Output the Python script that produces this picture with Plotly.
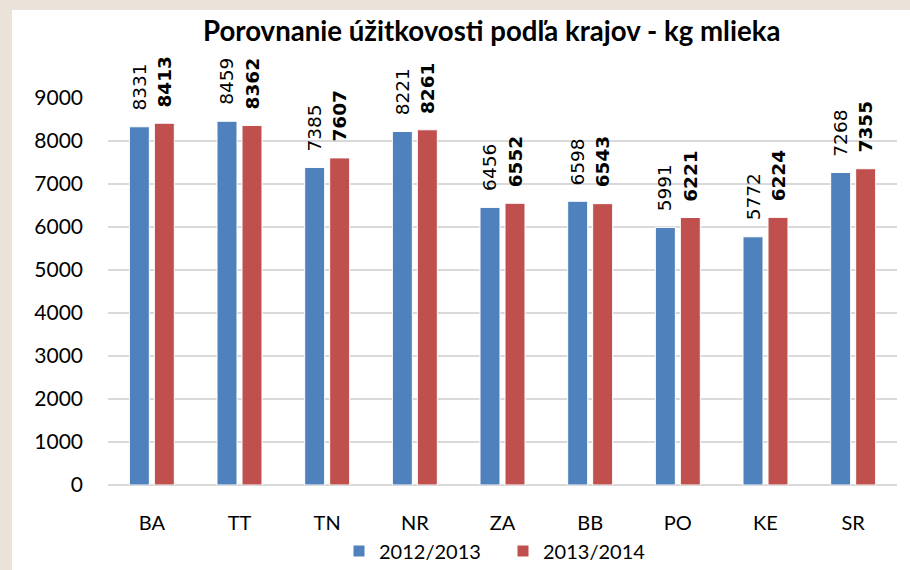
import plotly.graph_objects as go

categories = ["BA", "TT", "TN", "NR", "ZA", "BB", "PO", "KE", "SR"]
series_names = ["2012/2013", "2013/2014"]
values_2012 = [8331, 8459, 7385, 8221, 6456, 6598, 5991, 5772, 7268]
values_2013 = [8413, 8362, 7607, 8261, 6552, 6543, 6221, 6224, 7355]
y_ticks = [0, 1000, 2000, 3000, 4000, 5000, 6000, 7000, 8000, 9000]
title_text = "Porovnanie úžitkovosti podľa krajov - kg mlieka"

BLUE = "#4f81bd"
RED = "#c0504d"
GRID = "#d9d9d9"
TXT_FONT = "Lato, 'Open Sans', sans-serif"
LBL_FONT = "DejaVu Sans, Verdana, sans-serif"

fig = go.Figure()
fig.add_trace(go.Bar(x=categories, y=values_2012, name=series_names[0],
                     marker=dict(color=BLUE, line=dict(color="white", width=1))))
fig.add_trace(go.Bar(x=categories, y=values_2013, name=series_names[1],
                     marker=dict(color=RED, line=dict(color="white", width=1))))

annotations = []
for c, v in zip(categories, values_2012):
    annotations.append(dict(x=c, y=v, xref="x", yref="y", text=str(v), showarrow=False,
                            textangle=-90, xshift=-12.5, yshift=14, yanchor="bottom",
                            xanchor="center",
                            font=dict(family=LBL_FONT, size=18.5, color="#000000")))
for c, v in zip(categories, values_2013):
    annotations.append(dict(x=c, y=v, xref="x", yref="y", text="<b>" + str(v) + "</b>",
                            showarrow=False, textangle=-90, xshift=12.5, yshift=14,
                            yanchor="bottom", xanchor="center",
                            font=dict(family=LBL_FONT, size=18.5, color="#000000")))
annotations.append(dict(x=(491 - 108) / 789, y=1 + (98 - 30) / 387, xref="paper", yref="paper",
                        text="<b>" + title_text + "</b>", showarrow=False,
                        xanchor="center", yanchor="middle",
                        font=dict(family=TXT_FONT, size=27.6, color="#000000")))

fig.update_layout(
    width=910, height=570,
    margin=dict(l=108, r=13, t=98, b=85, autoexpand=False),
    paper_bgcolor="#ebe3d9",
    plot_bgcolor="white",
    barmode="group",
    bargap=0.43,
    bargroupgap=0.2,
    showlegend=True,
    legend=dict(orientation="h", x=339 / 910, xref="container", xanchor="left",
                y=1 - 551 / 570, yref="container", yanchor="middle",
                entrywidth=119, entrywidthmode="pixels",
                font=dict(family=TXT_FONT, size=20, color="#000000"),
                bgcolor="rgba(0,0,0,0)", itemclick=False),
    annotations=annotations,
    shapes=[dict(type="rect", xref="paper", yref="paper",
                 x0=-96 / 789, x1=1.2, y0=-1, y1=1 + 88 / 387,
                 fillcolor="white", line=dict(width=0), layer="below")],
    xaxis=dict(showgrid=False, showline=False, ticks="", automargin=False,
               tickfont=dict(family=TXT_FONT, size=20, color="#000000"),
               ticklabelstandoff=24),
    yaxis=dict(range=[0, 9000], tickvals=y_ticks, showgrid=True, gridcolor=GRID,
               gridwidth=1.5, zeroline=True, zerolinecolor=GRID, zerolinewidth=1.5,
               showline=False, ticks="", automargin=False,
               tickfont=dict(family=TXT_FONT, size=21, color="#000000"),
               ticklabelstandoff=24),
)

fig.write_html("out.html", config={"displayModeBar": False},
               post_script="document.body.style.margin='0';")
